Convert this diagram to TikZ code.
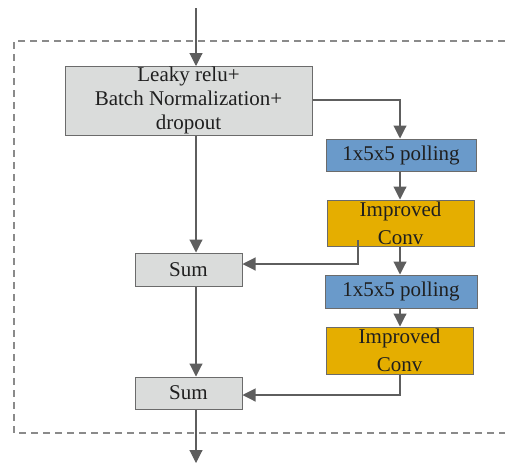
\documentclass[tikz,border=0pt]{standalone}
\usepackage{fontspec}
\setmainfont{Liberation Serif}
\usetikzlibrary{arrows.meta}
\definecolor{boxgray}{HTML}{DADCDB}
\definecolor{edgegray}{HTML}{6B6B6B}
\definecolor{linegray}{HTML}{5E5E5E}
\definecolor{dashgray}{HTML}{8A8A8A}
\definecolor{poolblue}{HTML}{6A9ACA}
\definecolor{convorange}{HTML}{E5AE00}
\begin{document}
\begin{tikzpicture}[x=1pt,y=-1pt,
  base/.style={draw=edgegray,line width=1pt,inner sep=0pt,font=\fontsize{21}{24}\selectfont,text=black!88,align=center},
  graybox/.style={base,fill=boxgray},
  poolbox/.style={base,fill=poolblue},
  convbox/.style={base,fill=convorange,font=\fontsize{21}{28}\selectfont},
  conn/.style={draw=linegray,line width=1.1pt,-{Triangle[length=13pt,width=13pt]}},
  frame/.style={draw=dashgray,line width=1.1pt,dash pattern=on 7pt off 5pt}]
\useasboundingbox (0,0) rectangle (505,463);
\draw[frame] (505,41) -- (14,41) -- (14,433) -- (505,433);
\node[graybox,minimum width=247pt,minimum height=69pt] (leaky) at (188.5,100.5) {Leaky relu+\\Batch Normalization+\\dropout};
\node[poolbox,minimum width=150pt,minimum height=32pt] (pool1) at (401,155) {1x5x5 polling};
\node[convbox,minimum width=147pt,minimum height=46pt] (conv1) at (400.5,223) {Improved\\Conv};
\node[poolbox,minimum width=152pt,minimum height=33pt] (pool2) at (401,291.5) {1x5x5 polling};
\node[convbox,minimum width=147pt,minimum height=47pt] (conv2) at (399.5,350.5) {Improved\\Conv};
\node[graybox,minimum width=107pt,minimum height=33pt] (sum1) at (188.5,269.5) {Sum};
\node[graybox,minimum width=107pt,minimum height=32pt] (sum2) at (188.5,393) {Sum};
\coordinate (in) at (196,8);
\coordinate (out) at (196,463);
\coordinate (c1) at (358,240);
\draw[conn] (in) -- (196,66);
\draw[conn] (leaky.east |- 0,100) -| (pool1.north -| 400,0);
\draw[conn] (pool1.south -| 400,0) -- (conv1.north -| 400,0);
\draw[conn] (conv1.south -| 400,0) -- (pool2.north -| 400,0);
\draw[conn] (pool2.south -| 400,0) -- (conv2.north -| 400,0);
\draw[conn] (leaky.south -| 196,0) -- (sum1.north -| 196,0);
\draw[conn] (sum1.south -| 196,0) -- (sum2.north -| 196,0);
\draw[conn] (c1) |- (sum1.east |- 0,264);
\draw[conn] (conv2.south -| 400,0) |- (sum2.east |- 0,395);
\draw[conn] (sum2.south -| 196,0) -- (out);
\end{tikzpicture}
\end{document}
